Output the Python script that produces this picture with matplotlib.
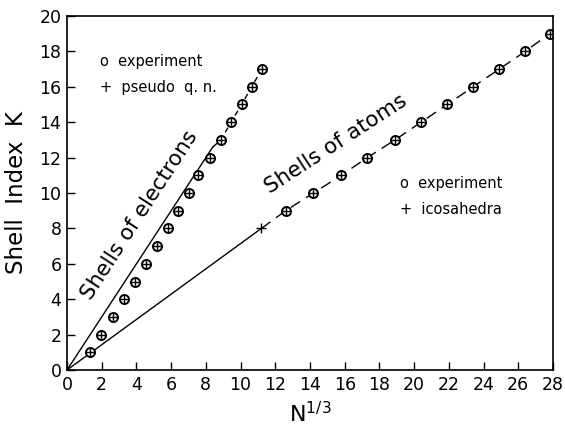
import matplotlib
matplotlib.use("Agg")
import matplotlib.pyplot as plt

# Shells of electrons (experiment / pseudo q.n.)
elec_x = [1.3, 1.98, 2.63, 3.3, 3.92, 4.53, 5.18, 5.8, 6.39, 7.03, 7.56, 8.24, 8.87, 9.45, 10.06, 10.64, 11.23]
elec_k = [1, 2, 3, 4, 5, 6, 7, 8, 9, 10, 11, 12, 13, 14, 15, 16, 17]
# electron guide line: solid part from origin to junction
elec_line_x = [0, 8.4]
elec_line_k = [0, 12.6]

# Shells of atoms (experiment / icosahedra)
atom_plus_x = [11.2]
atom_plus_k = [8]
atom_x = [12.6, 14.2, 15.8, 17.3, 18.9, 20.4, 21.9, 23.4, 24.9, 26.4, 27.8]
atom_k = [9, 10, 11, 12, 13, 14, 15, 16, 17, 18, 19]

xticks = list(range(0, 29, 2))
yticks = list(range(0, 21, 2))

plt.rcParams['font.family'] = ['DejaVu Sans']

fig = plt.figure(figsize=(5.65, 4.32), dpi=100)
ax = fig.add_axes([0.1186, 0.1435, 0.8602, 0.8195])

# electron line: solid from origin, then dashed through the outer points
ax.plot(elec_line_x, elec_line_k, color='black', lw=1.0)
ax.plot(elec_line_x[-1:] + elec_x[12:], elec_line_k[-1:] + elec_k[12:], color='black', lw=1.0, dashes=(4, 3))
# atom line: solid from origin to the first icosahedron, then dashed
ax.plot([0, atom_plus_x[0]], [0, atom_plus_k[0]], color='black', lw=1.0)
ax.plot(atom_plus_x + atom_x, atom_plus_k + atom_k, color='black', lw=1.0, dashes=(8, 5))

ms = 6.5
for xs, ks in [(elec_x, elec_k), (atom_x, atom_k)]:
    ax.plot(xs, ks, 'o', ms=ms, mfc='white', mec='black', mew=1.4, ls='none')
    ax.plot(xs, ks, '+', ms=ms, mec='black', mew=1.0, ls='none')
ax.plot(atom_plus_x, atom_plus_k, '+', ms=7, mec='black', mew=1.0, ls='none')

ax.set_xlim(0, 28)
ax.set_ylim(0, 20)
ax.set_xticks(xticks)
ax.set_yticks(yticks)
ax.tick_params(direction='in', length=6, width=1.0, labelsize=12.5, top=False, right=False, pad=4)
for s in ax.spines.values():
    s.set_linewidth(1.2)

ax.set_xlabel(r'N$^{1/3}$', fontsize=16, labelpad=5)
ax.set_ylabel('Shell  Index  K', fontsize=16.5, labelpad=8)

ax.text(1.9, 16.7, 'o  experiment\n+  pseudo  q. n.', fontsize=10.5, va='center', ha='left', linespacing=1.9)
ax.text(19.2, 9.8, 'o  experiment\n+  icosahedra', fontsize=10.5, va='center', ha='left', linespacing=1.9)

ax.text(4.2, 8.75, 'Shells of electrons', fontsize=15.5, rotation=57, ha='center', va='center', rotation_mode='anchor')
ax.text(15.5, 12.75, 'Shells of atoms', fontsize=15.5, rotation=33, ha='center', va='center', rotation_mode='anchor')

fig.savefig('out.png', dpi=100)
